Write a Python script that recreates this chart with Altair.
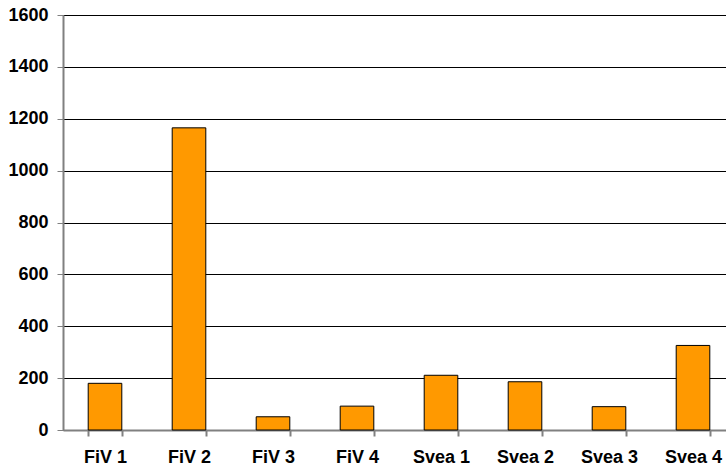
import altair as alt
import pandas as pd

categories = ["FiV 1", "FiV 2", "FiV 3", "FiV 4", "Svea 1", "Svea 2", "Svea 3", "Svea 4"]
values = [180, 1165, 51, 92, 211, 186, 90, 326]
y_ticks = [0, 200, 400, 600, 800, 1000, 1200, 1400, 1600]

df = pd.DataFrame({"cat": categories, "val": values})

chart = alt.Chart(df).mark_bar(
    color="#FF9900", stroke="#000000", strokeWidth=1
).encode(
    x=alt.X("cat:N", sort=categories, title=None,
            scale=alt.Scale(range=[0, 672], paddingInner=0.6, paddingOuter=0.3),
            axis=alt.Axis(labelAngle=0, labelFont="Liberation Sans", labelFontWeight="bold",
                          labelFontSize=18, labelColor="#000000", labelPadding=12,
                          domainColor="#808080", domainWidth=2, tickColor="#808080",
                          tickSize=6, tickWidth=2, tickBand="extent", grid=False)),
    y=alt.Y("val:Q", title=None,
            scale=alt.Scale(domain=[0, 1600], nice=False),
            axis=alt.Axis(values=y_ticks, format="d", labelFont="Liberation Sans",
                          labelFontWeight="bold",
                          labelFontSize=18, labelColor="#000000", labelPadding=9,
                          domainColor="#808080", domainWidth=2, tickColor="#808080",
                          tickSize=6, tickWidth=1, grid=True, gridColor="#000000",
                          gridWidth=1, gridOpacity=1))
).properties(
    width=663, height=415,
    autosize=alt.AutoSizeParams(type="none"),
    padding={"left": 63, "top": 15, "right": 0, "bottom": 37}
).configure_view(stroke=None).configure(background="#FFFFFF")

chart.save("out.html", embed_options={"renderer": "svg", "actions": False})
